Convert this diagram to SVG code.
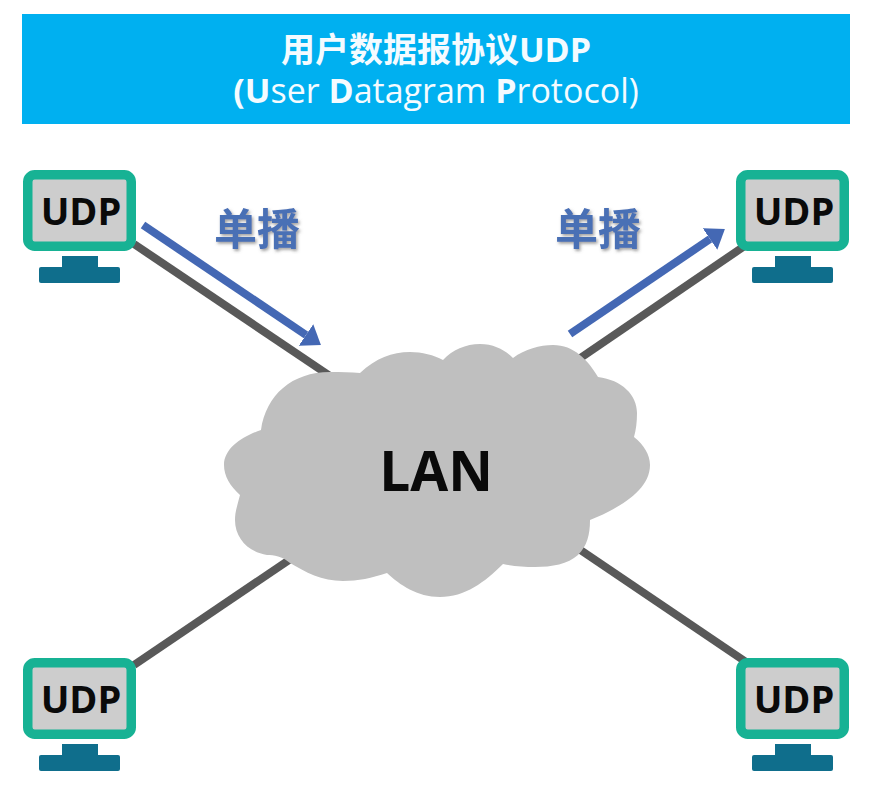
<svg xmlns="http://www.w3.org/2000/svg" xmlns:xlink="http://www.w3.org/1999/xlink" width="889" height="803" viewBox="0 0 889 803">
<style>
.ttl{font-family:"Open Sans","Noto Sans CJK SC",sans-serif;fill:#f4fbff;text-anchor:middle}
.b{font-weight:700}
.link{stroke:#595959;stroke-width:8;fill:none}
.uni{stroke:#4468b4;stroke-width:8;fill:none}
.scr{fill:#cdcdcd;stroke:#17b294;stroke-width:9.5}
.std{fill:#0f6e8c}
.udp{font-family:"Open Sans",sans-serif;font-weight:700;font-size:38px;fill:#0a0a0a;text-anchor:middle}
.lbl{font-family:"Noto Sans CJK SC",sans-serif;font-weight:700;font-size:43px;fill:#4a6fb5;text-anchor:middle;filter:url(#sh)}
</style>
<defs>
<filter id="sh" x="-20%" y="-20%" width="140%" height="140%"><feDropShadow dx="1.5" dy="2" stdDeviation="1.5" flood-color="#555" flood-opacity="0.55"/></filter>
<marker id="ah" viewBox="0 0 18 26" refX="0" refY="13" markerUnits="userSpaceOnUse" markerWidth="18" markerHeight="26" orient="auto"><path d="M0 0L18 13L0 26Z" fill="#4468b4"/></marker>
<g id="pc">
<rect class="scr" x="27.75" y="174.75" width="103.5" height="71.5" rx="7"/>
<rect class="std" x="62" y="256" width="36" height="12"/>
<rect class="std" x="39" y="267" width="81" height="16" rx="2"/>
<text class="udp" x="81" y="225">UDP</text>
</g>
</defs>
<rect x="0" y="0" width="889" height="803" fill="#fff"/>
<g id="banner">
<rect x="22" y="14" width="828" height="110" fill="#00b0f0"/>
<text class="ttl b" x="436" y="62" font-size="34">用户数据报协议UDP</text>
<text class="ttl" x="436" y="103" font-size="34"><tspan class="b">(U</tspan>ser <tspan class="b">D</tspan>atagram <tspan class="b">P</tspan>rotocol)</text>
</g>
<g id="connectors">
<line class="link" x1="134" y1="244" x2="330" y2="376"/>
<line class="link" x1="746" y1="245" x2="576" y2="361"/>
<line class="link" x1="134" y1="665" x2="295" y2="556"/>
<line class="link" x1="746" y1="662" x2="576" y2="547"/>
<line class="uni" x1="143" y1="225" x2="306" y2="335" marker-end="url(#ah)"/>
<line class="uni" x1="570" y1="334" x2="710" y2="239" marker-end="url(#ah)"/>
</g>
<g id="cloud">
<path fill="#bfbfbf" d="M261 430C266 395 292 372 330 372C341 372 351 372 360 373C376 358 392 352 410 352C422 352 434 355 443 360C452 350 466 344 480 344C494 344 505 350 513 358C525 349 540 345 553 345C574 345 588 360 598 377C622 380 637 395 637 413C637 422 636 430 634 437C644 445 650 455 650 465C650 490 620 508 590 520C590 535 587 546 578 555C568 564 552 567 535 567C524 567 513 566 503 564C485 582 465 597 440 597C417 597 400 585 387 573C372 578 358 581 343 581C322 581 305 572 290 563C282 556 274 555 267 555C248 552 235 538 235 520C235 511 238 503 240 495C230 486 224 476 224 465C224 448 243 436 261 430Z"/>
<text x="436" y="491" font-family="Open Sans,sans-serif" font-weight="700" font-size="55" fill="#0a0a0a" text-anchor="middle">LAN</text>
</g>
<g id="pc-top-left"><use xlink:href="#pc" href="#pc"/></g>
<g id="pc-top-right"><use xlink:href="#pc" href="#pc" x="713"/></g>
<g id="pc-bottom-left"><use xlink:href="#pc" href="#pc" y="488"/></g>
<g id="pc-bottom-right"><use xlink:href="#pc" href="#pc" x="713" y="488"/></g>
<g id="labels">
<text class="lbl" x="257" y="245">单播</text>
<text class="lbl" x="598" y="245">单播</text>
</g>
</svg>
